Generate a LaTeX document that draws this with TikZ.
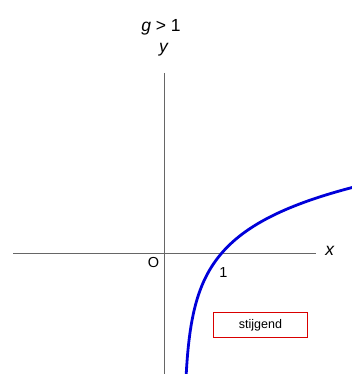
\documentclass[tikz,border=0pt]{standalone}
\usepackage{fontspec}
\setmainfont{Liberation Sans}
\begin{document}
\begin{tikzpicture}[x=1pt,y=-1pt,
  axis/.style={draw=black!60,line width=1pt},
  graph/.style={draw=blue!85!black,line width=2.8pt},
  lbl/.style={inner sep=0pt,anchor=base,font=\fontsize{17.5}{20}\selectfont},
  small/.style={inner sep=0pt,font=\fontsize{14.5}{17}\selectfont},
  tag/.style={draw=red!85!black,line width=1.3pt,minimum width=94pt,minimum height=25pt,inner sep=0pt,font=\fontsize{12.5}{15}\selectfont}]
\useasboundingbox (0,0) rectangle (352,374);
\coordinate (xl) at (13,253);
\coordinate (xr) at (316,253);
\coordinate (yt) at (164,73);
\coordinate (yb) at (164,374);
\draw[axis] (xl) -- (xr);
\draw[axis] (yt) -- (yb);
\begin{scope}
\clip (0,0) rectangle (352,374);
\draw[graph] plot[domain=378:183, samples=160, smooth] ({183.8+38*exp((253-\x)/44)}, \x);
\end{scope}
\node[lbl] (g) at (161,31.7) {\textit{g} > 1};
\node[lbl] (ylab) at (164,53) {\textit{y}};
\node[lbl] (xlab) at (330,255.5) {\textit{x}};
\node[small] (o) at (153.5,263) {O};
\node[small] (one) at (223.5,272.5) {1};
\node[tag] (st) at (260.5,325) {stijgend};
\end{tikzpicture}
\end{document}
